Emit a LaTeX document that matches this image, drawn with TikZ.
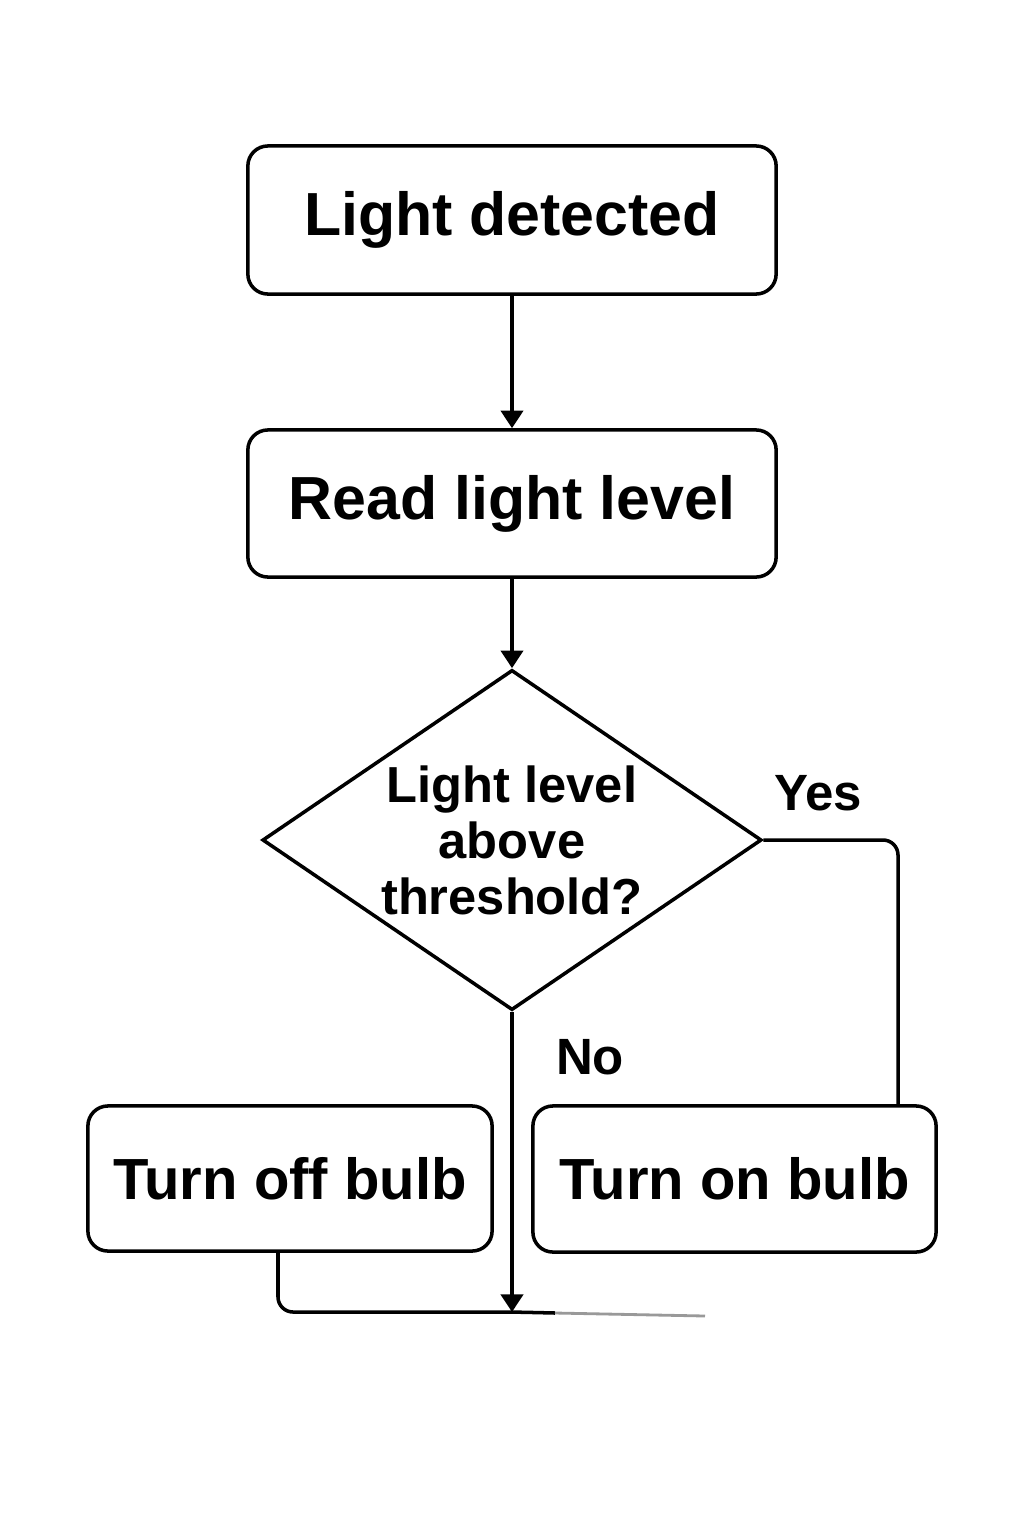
\documentclass[tikz,border=0pt]{standalone}
\usepackage{fontspec}
\setmainfont{Liberation Sans}
\usetikzlibrary{shapes.geometric,arrows.meta}
\begin{document}
\begin{tikzpicture}[x=0.01cm,y=-0.01cm,
  box/.style={draw, line width=1pt, rounded corners=0.2cm, inner sep=0pt, align=center,
    font=\fontsize{17.3}{20}\selectfont\bfseries},
  smallbox/.style={box, font=\fontsize{16.5}{19}\selectfont\bfseries},
  dec/.style={draw, shape=diamond, line width=1pt, inner sep=0pt, aspect=1.47,
    minimum width=4.99cm, minimum height=3.40cm, align=center,
    font=\fontsize{14.4}{15.9}\selectfont\bfseries},
  conn/.style={line width=1pt},
  arr/.style={conn, -{Triangle[length=5pt,width=6.3pt]}},
  lbl/.style={inner sep=0pt, font=\fontsize{14.5}{16}\selectfont\bfseries}]
\fill[white] (0,0) rectangle (1024,1536);
\path[use as bounding box] (0,0) rectangle (1024,1536);

\node[box, minimum width=5.28cm, minimum height=1.48cm] (detect) at (512,220) {\raisebox{-1.2pt}{Light detected}};
\node[box, minimum width=5.28cm, minimum height=1.47cm] (read) at (512,503.5) {\raisebox{-1.2pt}{Read light level}};
\node[dec] (dec) at (512,840) {Light level\\above\\threshold?};
\node[smallbox, minimum width=4.04cm, minimum height=1.45cm] (off) at (290,1178.5) {Turn off bulb};
\node[smallbox, minimum width=4.03cm, minimum height=1.46cm] (on) at (734.5,1179) {Turn on bulb};

\node[lbl] (yes) at (818,793) {Yes};
\node[lbl] (no) at (590,1057) {No};

\coordinate (yx) at (898,0);
\coordinate (offx) at (278,0);
\coordinate (join) at (512,1312);
\coordinate (tail) at (555,1313);
\coordinate (fade) at (705,1316);

\draw[arr] (detect) -- (read);
\draw[arr] (read) -- (dec.north);
\draw[conn, rounded corners=0.15cm] (dec.east) -| (on.north -| yx);
\draw[arr] (dec.south) -- (join);
\draw[conn, rounded corners=0.15cm] (off.south -| offx) |- (join) -- (tail);
\draw[line width=0.8pt, black!40] (tail) -- (fade);
\end{tikzpicture}
\end{document}
